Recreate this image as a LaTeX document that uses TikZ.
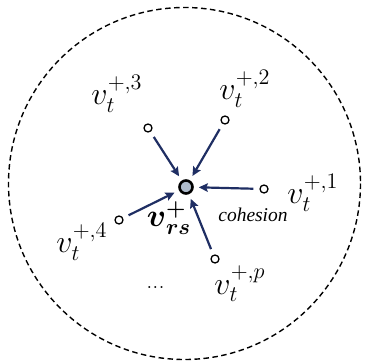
\documentclass[tikz,border=0pt]{standalone}
\usepackage{amsmath}
\usepackage{graphicx}
\usepackage{fontspec}
\newfontfamily\timesf{Liberation Serif}
\usetikzlibrary{arrows.meta}
\definecolor{navy}{HTML}{1F2E63}
\definecolor{hubfill}{HTML}{AEBBCB}
\newcommand{\biglab}[1]{\scalebox{1.85}{\LARGE$#1$}}
\tikzset{
  member/.style={circle,draw=black,line width=1.3pt,fill=white,minimum size=8pt,inner sep=0pt},
  hub/.style={circle,draw=black,line width=2.6pt,fill=hubfill,minimum size=13pt,inner sep=0pt},
  pull/.style={draw=navy,line width=2.2pt,-{Stealth[length=9pt,width=8.5pt,inset=1.5pt]},shorten <=6pt,shorten >=5pt},
  lab/.style={inner sep=0pt},
  note/.style={inner sep=0pt,font=\timesf\fontsize{19.5}{22}\selectfont\itshape}
}
\begin{document}
\begin{tikzpicture}[x=1pt,y=-1pt]
\useasboundingbox (0,0) rectangle (369,361);
\draw[line width=1.4pt,dash pattern=on 5.5pt off 3.5pt] (184.5,183.5) circle[radius=176];
\node[hub] (c) at (186,187) {};
\node[member] (m1) at (264,189) {};
\node[member] (m2) at (225,120) {};
\node[member] (m3) at (148,128) {};
\node[member] (m4) at (119,220) {};
\node[member] (mp) at (215,259) {};
\draw[pull] (m1) -- (c);
\draw[pull] (m2) -- (c);
\draw[pull] (m3) -- (c);
\draw[pull] (m4) -- (c);
\draw[pull] (mp) -- (c);
\node[lab] (l1) at (313,193) {\biglab{v_t^{+,1}}};
\node[lab] (l2) at (245,89) {\biglab{v_t^{+,2}}};
\node[lab] (l3) at (117,94) {\biglab{v_t^{+,3}}};
\node[lab] (l4) at (82,242) {\biglab{v_t^{+,4}}};
\node[lab] (lp) at (240,284) {\biglab{v_t^{+,p}}};
\node[lab] (lc) at (169,218) {\biglab{\boldsymbol{v}_{\boldsymbol{rs}}^{\boldsymbol{+}}}};
\node[note,anchor=base] (coh) at (253,221) {cohesion};
\node[inner sep=0pt,anchor=base] (dots) at (155.5,288) {\scalebox{1.4}{\LARGE ...}};
\end{tikzpicture}
\end{document}
